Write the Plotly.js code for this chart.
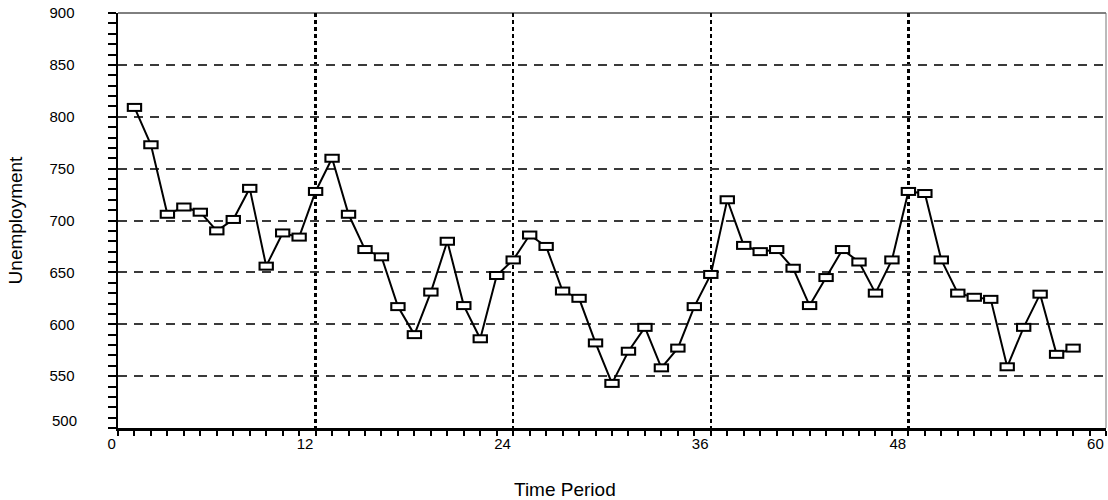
<!DOCTYPE html>
<html>
<head>
<meta charset="utf-8">
<script src="https://cdn.plot.ly/plotly-3.0.1.min.js"></script>
<style>html,body{margin:0;padding:0;background:#fff;}#chart{width:1108px;height:500px;}</style>
</head>
<body>
<div id="chart"></div>
<script>
var periods = [1,2,3,4,5,6,7,8,9,10,11,12,13,14,15,16,17,18,19,20,21,22,23,24,25,26,27,28,29,30,
  31,32,33,34,35,36,37,38,39,40,41,42,43,44,45,46,47,48,49,50,51,52,53,54,55,56,57,58];
var unemployment = [809,773,706,713,708,690,701,731,656,688,684,728,
  760,706,672,665,617,590,631,680,618,586,647,662,
  686,675,632,625,582,543,574,597,558,577,617,648,
  720,676,670,672,654,618,645,672,660,630,662,728,
  726,662,630,626,624,559,597,629,571,577];
var xTickVals = [0,12,24,36,48,60];
var xTickText = ['0','12','24','36','48','60'];
var yTickVals = [500,550,600,650,700,750,800,850,900];
var yTickText = ['','550','600','650','700','750','800','850','900'];
var xTitle = 'Time Period';
var yTitle = 'Unemployment';

var font = 'Liberation Sans, Arial, sans-serif';

var traces = [
  {x: periods, y: unemployment, mode: 'lines', line: {color: '#000', width: 2}, hoverinfo: 'skip', showlegend: false},
  {x: periods, y: unemployment, mode: 'markers', hoverinfo: 'skip', showlegend: false,
   marker: {symbol: 'line-ew', size: 11, color: '#000', line: {color: '#000', width: 9}}},
  {x: periods, y: unemployment, mode: 'markers', hoverinfo: 'skip', showlegend: false,
   marker: {symbol: 'line-ew', size: 8, color: '#fff', line: {color: '#fff', width: 5}}}
];

var layout = {
  width: 1108, height: 500,
  margin: {l: 118, r: 2, t: 13, b: 72},
  paper_bgcolor: '#fff', plot_bgcolor: '#fff',
  font: {family: font, size: 15, color: '#000'},
  showlegend: false,
  xaxis: {
    range: [0, 60], tickmode: 'array', tickvals: xTickVals, ticktext: xTickText,
    ticks: 'outside', ticklen: 5, tickwidth: 2, tickcolor: '#000',
    ticklabelposition: 'outside left',
    minor: {dtick: 1, tick0: 0, ticks: 'outside', ticklen: 5, tickwidth: 2, tickcolor: '#000', showgrid: false},
    showline: true, linecolor: '#000', linewidth: 2.5,
    showgrid: true, gridcolor: '#000', gridwidth: 2.5, griddash: '4px,3px',
    zeroline: false, tickfont: {family: font, size: 15, color: '#000'}
  },
  yaxis: {
    range: [500, 900], tickmode: 'array', tickvals: yTickVals, ticktext: yTickText,
    ticks: 'outside', ticklen: 8, tickwidth: 2, tickcolor: '#000',
    ticklabelstandoff: 30,
    minor: {dtick: 10, tick0: 500, ticks: 'outside', ticklen: 8, tickwidth: 2, tickcolor: '#000', showgrid: false},
    showline: true, linecolor: '#000', linewidth: 2.5,
    showgrid: true, gridcolor: '#3a3a3a', gridwidth: 2, griddash: '9px,7px',
    zeroline: false, tickfont: {family: font, size: 15, color: '#000'},
    title: {text: yTitle, font: {family: font, size: 19, color: '#000'}, standoff: 22}
  },
  shapes: [
    {type: 'line', xref: 'paper', yref: 'paper', x0: 0, x1: 1, y0: 1, y1: 1, line: {color: '#000', width: 1}},
    {type: 'line', xref: 'paper', yref: 'paper', x0: 1, x1: 1, y0: 0, y1: 1, line: {color: '#777', width: 1}}
  ],
  annotations: [
    {text: '500', xref: 'paper', yref: 'y', x: 0, y: 500, xanchor: 'right', yanchor: 'middle',
     xshift: -39, yshift: 8, showarrow: false, font: {family: font, size: 15, color: '#000'}},
    {text: xTitle, xref: 'paper', yref: 'paper', x: (565 - 118) / 988, y: 0, xanchor: 'center', yanchor: 'middle',
     yshift: -61, showarrow: false, font: {family: font, size: 19, color: '#000'}}
  ]
};

Plotly.newPlot('chart', traces, layout, {displayModeBar: false, staticPlot: true});
</script>
</body>
</html>
